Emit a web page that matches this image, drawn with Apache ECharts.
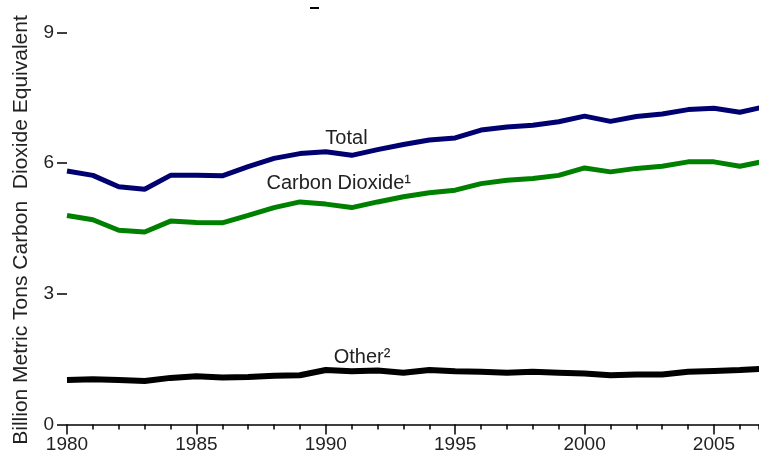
<!DOCTYPE html>
<html>
<head>
<meta charset="utf-8">
<script src="https://cdn.jsdelivr.net/npm/echarts@6/dist/echarts.min.js"></script>
<style>
html,body{margin:0;padding:0;background:#fff;}
#chart{width:759px;height:460px;}
</style>
</head>
<body>
<div id="chart"></div>
<script>
// ---- data ----
const years = [1980,1981,1982,1983,1984,1985,1986,1987,1988,1989,1990,1991,1992,1993,1994,1995,1996,1997,1998,1999,2000,2001,2002,2003,2004,2005,2006,2007];
const totalValues = [5.82,5.72,5.46,5.40,5.72,5.72,5.71,5.92,6.11,6.22,6.26,6.18,6.31,6.43,6.53,6.58,6.76,6.83,6.87,6.95,7.08,6.96,7.07,7.13,7.23,7.26,7.17,7.30];
const co2Values = [4.80,4.70,4.46,4.42,4.67,4.64,4.63,4.80,4.98,5.11,5.06,4.98,5.11,5.23,5.32,5.38,5.53,5.61,5.65,5.72,5.89,5.80,5.88,5.93,6.03,6.03,5.93,6.05];
const otherValues = [1.02,1.04,1.02,1.00,1.07,1.11,1.08,1.09,1.12,1.13,1.25,1.22,1.24,1.19,1.25,1.22,1.21,1.19,1.21,1.19,1.17,1.13,1.15,1.15,1.21,1.23,1.25,1.28];
const yTicks = [0,3,6,9];
const xLabelYears = [1980,1985,1990,1995,2000,2005];
const seriesNames = ['Total','Carbon Dioxide\u00B9','Other\u00B2'];
const yTitle = 'Billion Metric Tons Carbon  Dioxide Equivalent';

const pairs = vals => years.map((y,i)=>[y, vals[i]]);
const FONT = '"Liberation Sans", Arial, sans-serif';
const TXT = '#222';

const chart = echarts.init(document.getElementById('chart'));
const gridGeom = {left:67, right:0, top:32.5, bottom:35.5, containLabel:false};
const xMin = 1980, xMax = 2006.74;

function labelMark(coord, text){
  return {
    symbol:'circle', symbolSize:0, silent:true, animation:false,
    data:[{coord:coord, value:text}],
    label:{show:true, position:'inside', formatter:text, color:TXT, fontSize:20, fontFamily:FONT}
  };
}

chart.setOption({
  animation:false,
  backgroundColor:'#fff',
  grid:[gridGeom, Object.assign({}, gridGeom)],
  xAxis:[
    {type:'value', gridIndex:0, min:xMin, max:xMax, interval:1,
     axisLine:{show:true, lineStyle:{color:'#000', width:1.5}},
     axisTick:{show:true, length:5, lineStyle:{color:'#000', width:1.5}},
     axisLabel:{show:false}, splitLine:{show:false}},
    {type:'value', gridIndex:1, min:xMin, max:xMax, interval:5,
     axisLine:{show:false},
     axisTick:{show:true, length:10, lineStyle:{color:'#000', width:1.5}},
     axisLabel:{show:true, margin:11, fontSize:19, color:TXT, fontFamily:FONT, showMaxLabel:false,
       formatter: v => xLabelYears.indexOf(v) >= 0 ? String(v) : ''},
     splitLine:{show:false}}
  ],
  yAxis:[
    {type:'value', gridIndex:0, min:yTicks[0], max:yTicks[yTicks.length-1], interval:3,
     axisLine:{show:false},
     axisTick:{show:true, inside:false, length:10, lineStyle:{color:'#000', width:1.5}},
     axisLabel:{show:true, margin:13, fontSize:19, color:TXT, fontFamily:FONT},
     splitLine:{show:false}},
    {type:'value', gridIndex:1, min:0, max:9, show:false}
  ],
  graphic:[
    {type:'text', x:21, y:230, rotation:Math.PI/2,
     style:{text:yTitle, fill:TXT, font:'21px ' + FONT, textAlign:'center', textVerticalAlign:'middle'}},
    {type:'rect', shape:{x:310, y:7, width:9, height:2}, style:{fill:'#000'}}
  ],
  series:[
    {name:seriesNames[2], type:'line', xAxisIndex:0, yAxisIndex:0, data:pairs(otherValues),
     showSymbol:false, lineStyle:{color:'#000', width:6}, itemStyle:{color:'#000'}, z:3,
     markPoint: labelMark([1991.4, 1.54], seriesNames[2])},
    {name:seriesNames[1], type:'line', xAxisIndex:0, yAxisIndex:0, data:pairs(co2Values),
     showSymbol:false, lineStyle:{color:'#008000', width:5}, itemStyle:{color:'#008000'}, z:3,
     markPoint: labelMark([1990.5, 5.54], seriesNames[1])},
    {name:seriesNames[0], type:'line', xAxisIndex:0, yAxisIndex:0, data:pairs(totalValues),
     showSymbol:false, lineStyle:{color:'#000070', width:5}, itemStyle:{color:'#000070'}, z:3,
     markPoint: labelMark([1990.8, 6.56], seriesNames[0])}
  ]
});
</script>
</body>
</html>
